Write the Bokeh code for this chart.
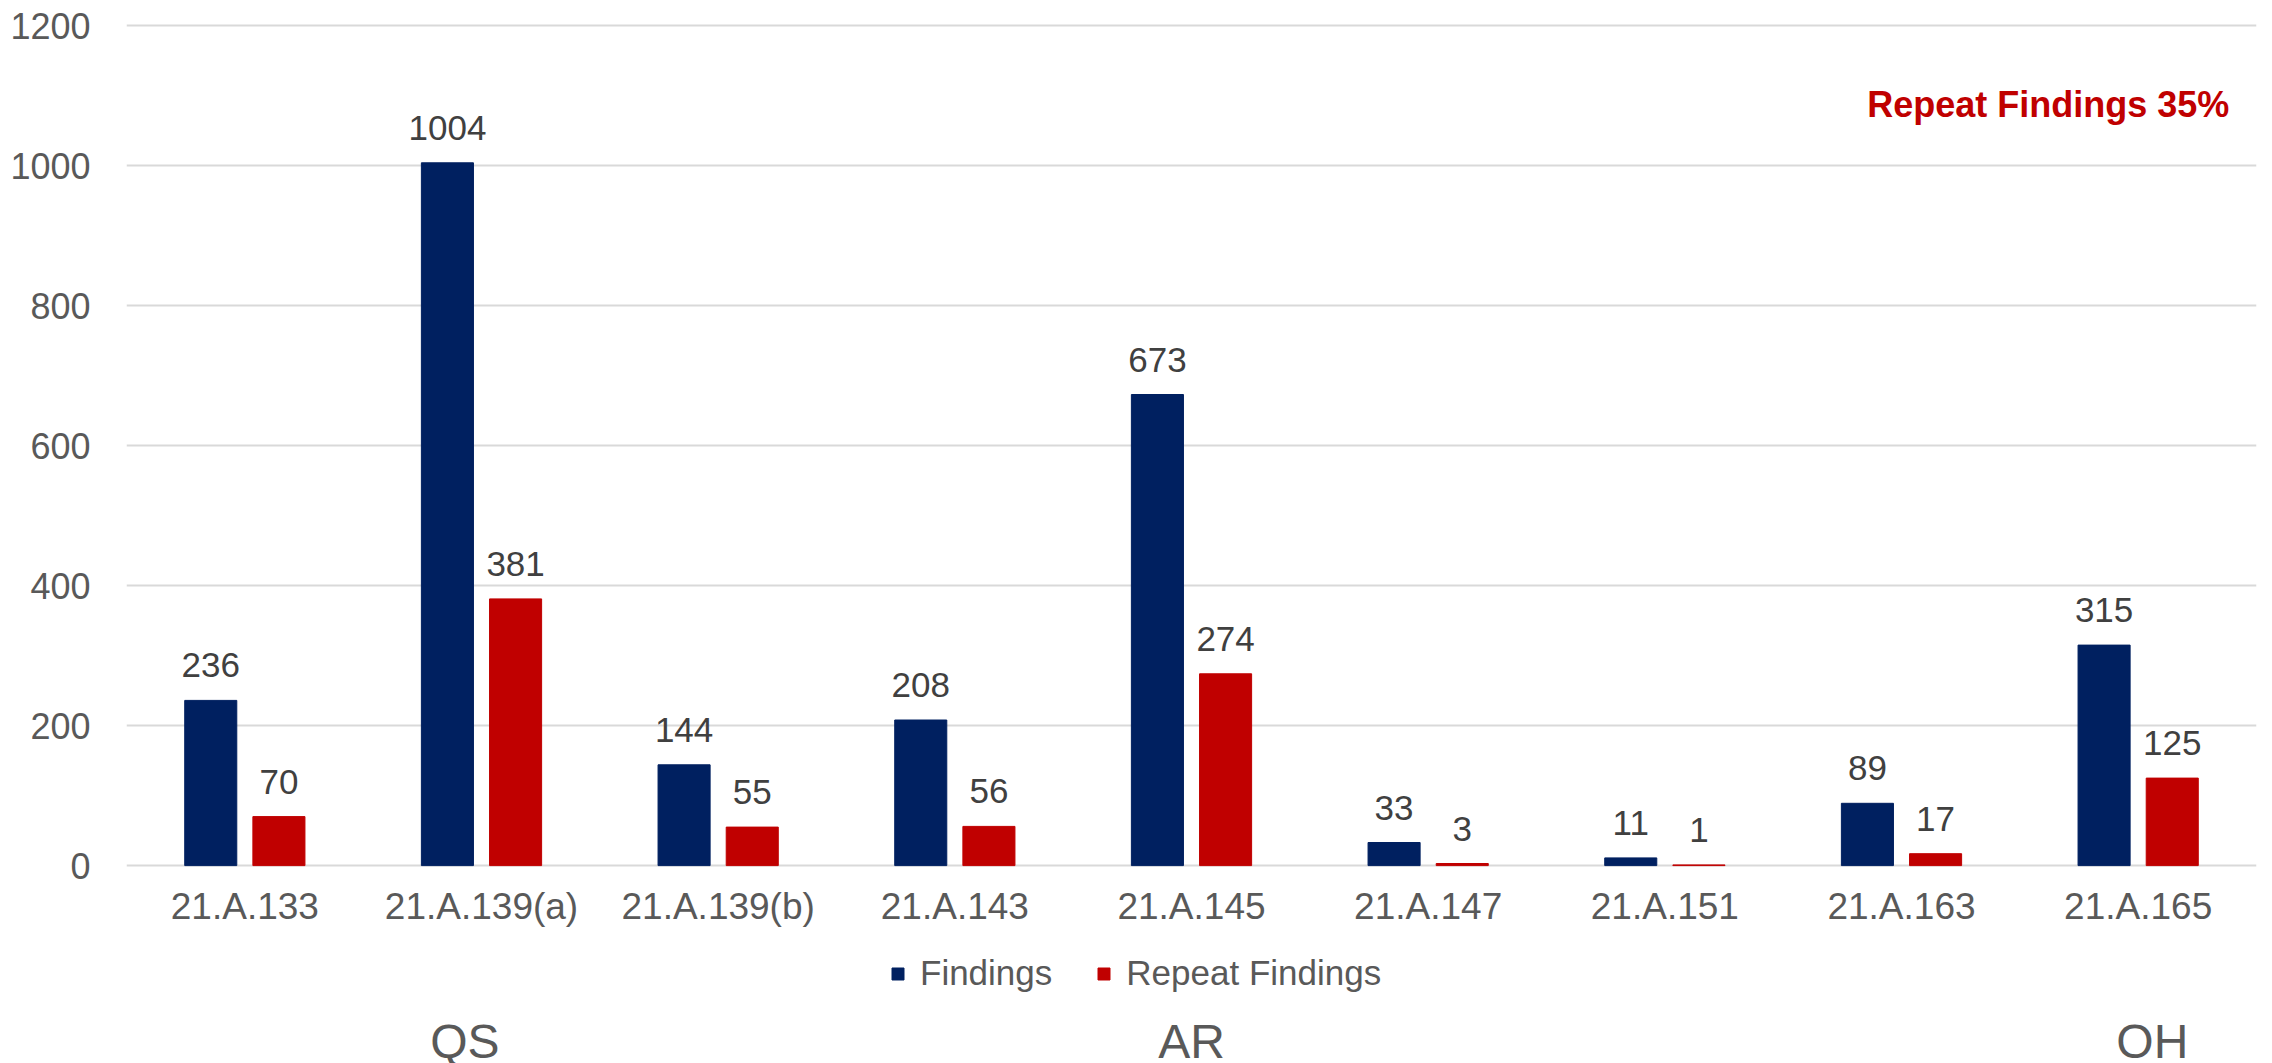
from bokeh.plotting import figure
from bokeh.models import (Range1d, ColumnDataSource, Legend, LegendItem,
                          FixedTicker, Label)
from bokeh.core.properties import value
from bokeh.embed import file_html
from bokeh.resources import INLINE

categories = ["21.A.133", "21.A.139(a)", "21.A.139(b)", "21.A.143", "21.A.145",
              "21.A.147", "21.A.151", "21.A.163", "21.A.165"]
findings = [236, 1004, 144, 208, 673, 33, 11, 89, 315]
repeat_findings = [70, 381, 55, 56, 274, 3, 1, 17, 125]
y_ticks = [0, 200, 400, 600, 800, 1000, 1200]
group_labels = ["QS", "AR", "OH"]
group_positions = [1.43, 4.5, 8.56]
annotation = "Repeat Findings 35%"

FONT = "Liberation Sans"
BLUE = "#002060"
RED = "#C00000"
GREY = "#595959"
OFFSET = 0.144
BAR_W = 0.22

centers = [i + 0.5 for i in range(len(categories))]
src = ColumnDataSource(dict(xf=[c - OFFSET for c in centers],
                            xr=[c + OFFSET for c in centers],
                            xc=centers, cat=categories,
                            f=findings, r=repeat_findings,
                            fl=[str(v) for v in findings],
                            rl=[str(v) for v in repeat_findings]))
gsrc = ColumnDataSource(dict(x=group_positions, label=group_labels))

# frame: 0.7 px per unit, extends below zero to hold category labels, legend and groups
p = figure(frame_width=2130, frame_height=1040, x_range=Range1d(0, len(categories)),
           y_range=Range1d(1203 - 1040 / 0.7, 1203), output_backend="svg",
           toolbar_location=None, min_border_left=126, min_border_top=23,
           min_border_right=16, min_border_bottom=0, x_axis_location=None)
p.outline_line_color = None
p.background_fill_color = "white"

bf = p.vbar(x="xf", top="f", width=BAR_W, source=src, fill_color=BLUE, line_color=BLUE)
br = p.vbar(x="xr", top="r", width=BAR_W, source=src, fill_color=RED, line_color=RED)

p.text(x="xf", y="f", text="fl", source=src,
       text_align="center", text_baseline="alphabetic", y_offset=-35,
       text_font=value(FONT), text_font_size="35px", text_color="#404040")
p.text(x="xr", y="r", text="rl", source=src,
       text_align="center", text_baseline="alphabetic", y_offset=-35,
       text_font=value(FONT), text_font_size="35px", text_color="#404040")

# category labels under the zero line
p.text(x="xc", y=0, text="cat", source=src,
       text_align="center", text_baseline="alphabetic", y_offset=41,
       text_font=value(FONT), text_font_size="37px", text_color=GREY)

# group labels
p.text(x="x", y=0, text="label", source=gsrc,
       text_align="center", text_baseline="alphabetic", y_offset=176,
       text_font=value(FONT), text_font_size="48px", text_color=GREY)

# y axis
p.yaxis.ticker = FixedTicker(ticks=y_ticks)
p.yaxis.axis_line_color = None
p.yaxis.major_tick_line_color = None
p.yaxis.minor_tick_line_color = None
p.yaxis.major_label_text_font = FONT
p.yaxis.major_label_text_font_size = "36px"
p.yaxis.major_label_text_color = GREY
p.yaxis.major_label_standoff = 30

p.xgrid.grid_line_color = None
p.ygrid.grid_line_color = "#d9d9d9"
p.ygrid.grid_line_width = 2

legend = Legend(items=[LegendItem(label="Findings", renderers=[bf]),
                       LegendItem(label="Repeat Findings", renderers=[br])],
                orientation="horizontal", location=(764, 70))
legend.glyph_width = 15
legend.glyph_height = 15
legend.label_standoff = 15
legend.spacing = 44
legend.padding = 0
legend.margin = 0
legend.border_line_color = None
legend.background_fill_alpha = 0
legend.label_text_font = FONT
legend.label_text_font_size = "35px"
legend.label_text_color = GREY
p.add_layout(legend, "center")

p.add_layout(Label(x=8.885, y=1087, text=annotation, text_align="right",
                   text_baseline="middle", text_font=FONT, text_font_size="36px",
                   text_font_style="bold", text_color=RED))

open("out.html", "w").write(file_html(p, INLINE))
